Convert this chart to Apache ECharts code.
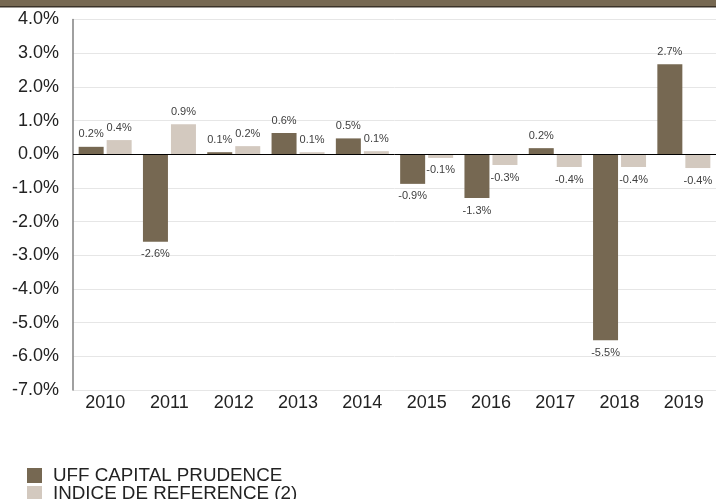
<!DOCTYPE html>
<html>
<head>
<meta charset="utf-8">
<script src="https://cdn.jsdelivr.net/npm/echarts@6/dist/echarts.min.js"></script>
<style>
html,body{margin:0;padding:0;background:#fff;}
#chart{width:716px;height:499px;}
</style>
</head>
<body>
<div id="chart"></div>
<script>
const categories = ['2010','2011','2012','2013','2014','2015','2016','2017','2018','2019'];
const seriesNames = ['UFF CAPITAL PRUDENCE','INDICE DE REFERENCE (2)'];
const fundValues = [0.22, -2.6, 0.06, 0.63, 0.47, -0.88, -1.3, 0.18, -5.52, 2.67];
const indexValues = [0.42, 0.89, 0.24, 0.06, 0.09, -0.11, -0.32, -0.38, -0.38, -0.41];

const FONT = 'Liberation Sans, Arial, sans-serif';
const BROWN = '#766852';
const GREY = '#d3c9bf';

function toItems(vals){
  return vals.map(v => ({
    value: v,
    label: { position: v >= 0 ? 'top' : 'bottom' }
  }));
}

const labelCfg = {
  show: true,
  fontFamily: FONT,
  fontSize: 11,
  color: '#404040',
  distance: 7,
  formatter: p => p.value.toFixed(1) + '%'
};

function legendFor(name, top){
  return {
    orient: 'vertical',
    left: 27,
    top: top,
    padding: 0,
    itemWidth: 15,
    itemHeight: 15,
    icon: 'rect',
    textStyle: { fontFamily: FONT, fontSize: 18.8, color: '#222', padding: [0,0,0,6] },
    data: [name]
  };
}

const chart = echarts.init(document.getElementById('chart'), null, {renderer:'canvas'});
chart.setOption({
  animation: false,
  backgroundColor: '#fff',
  graphic: [
    { type: 'rect', left: 0, top: 0, shape: { width: 716, height: 6 }, style: { fill: BROWN } },
    { type: 'rect', left: 0, top: 6, shape: { width: 716, height: 1.5 }, style: { fill: '#3a3228' } }
  ],
  grid: { left: 73, right: 0, top: 19.5, bottom: 109, containLabel: false },
  legend: [ legendFor(seriesNames[0], 466), legendFor(seriesNames[1], 484) ],
  xAxis: {
    type: 'category',
    data: categories,
    axisLine: { show: false, onZero: false },
    axisTick: { show: false },
    axisLabel: { fontFamily: FONT, fontSize: 18, color: '#222', margin: 4 }
  },
  yAxis: {
    type: 'value',
    min: -7, max: 4, interval: 1,
    axisLine: { show: true, lineStyle: { color: '#808080', width: 1.5 } },
    axisTick: { show: false },
    splitLine: { lineStyle: { color: '#e6e6e6', width: 1 } },
    axisLabel: { fontFamily: FONT, fontSize: 18, color: '#222', margin: 14,
      formatter: v => v.toFixed(1) + '%' }
  },
  series: [
    {
      name: seriesNames[0], type: 'bar', barWidth: 25, barGap: '12%',
      itemStyle: { color: BROWN },
      label: labelCfg,
      data: toItems(fundValues),
      markLine: {
        silent: true, symbol: 'none', label: { show: false },
        lineStyle: { color: '#000', width: 1, type: 'solid' },
        data: [{ yAxis: 0 }]
      }
    },
    {
      name: seriesNames[1], type: 'bar', barWidth: 25, barGap: '12%',
      itemStyle: { color: GREY },
      label: labelCfg,
      data: toItems(indexValues)
    }
  ]
});
</script>
</body>
</html>
